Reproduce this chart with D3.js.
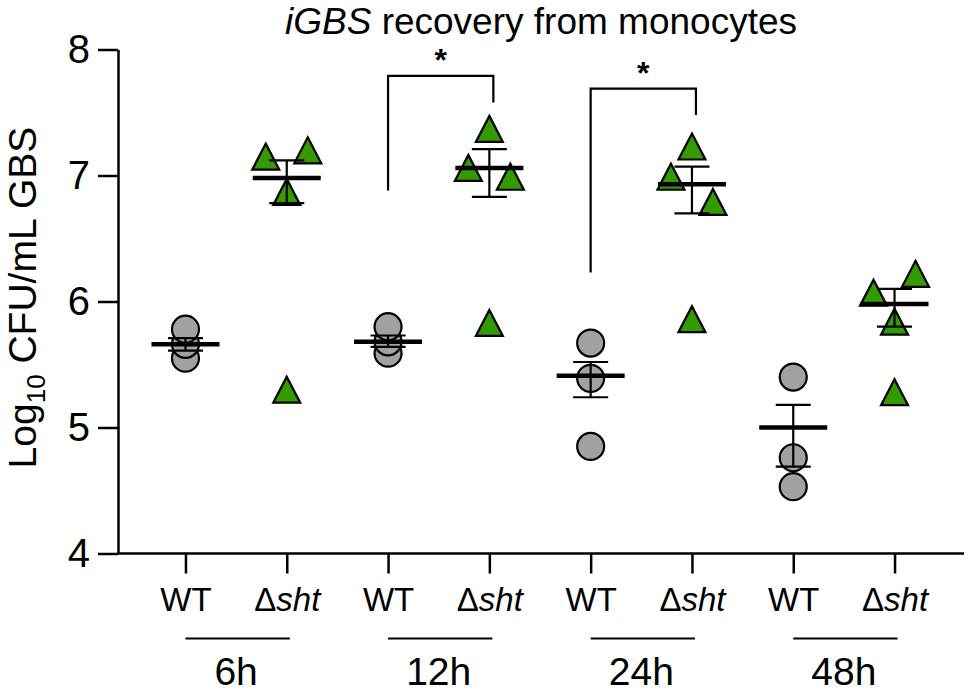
<!DOCTYPE html>
<html>
<head>
<meta charset="utf-8">
<script src="https://cdn.jsdelivr.net/npm/d3@7"></script>
<style>
  body { margin: 0; background: #fff; }
  text { font-family: Arial, "Liberation Sans", sans-serif; }
</style>
</head>
<body>
<script>
// time points and strains
var groups = ["6h", "12h", "24h", "48h"];
var strains = ["WT", "sht"];

// log10 CFU/mL, one row per time point
var wtValues = [
    [5.55, 5.66, 5.78],
    [5.59, 5.68, 5.80],
    [4.85, 5.39, 5.67],
    [4.53, 4.76, 5.40]
];
var shtValues = [
    [7.15, 7.20, 6.87, 5.30],
    [7.37, 7.06, 6.99, 5.83],
    [7.23, 6.99, 6.79, 5.86],
    [6.22, 6.07, 5.84, 5.28]
];

// mean line and error bar ends as plotted
var wtMean = [5.66, 5.68, 5.41, 5.00];
var wtHigh = [5.71, 5.73, 5.52, 5.18];
var wtLow  = [5.61, 5.64, 5.24, 4.69];
var shtMean = [6.98, 7.06, 6.93, 5.98];
var shtHigh = [7.12, 7.21, 7.07, 6.10];
var shtLow  = [6.78, 6.83, 6.70, 5.80];

var yTicks = [4, 5, 6, 7, 8];

// significance brackets: [group, top, wt end, sht end]
var brackets = [
    ["12h", 7.79, 6.88, 7.58],
    ["24h", 7.69, 6.23, 7.48]
];

// horizontal spread of overlapping triangles (-1 left, 0 centre, 1 right)
var shtSpread = [
    [-1, 1, 0, 0],
    [0, -1, 1, 0],
    [0, -1, 1, 0],
    [1, -1, 0, 0]
];

var margin = {top: 49.5, left: 118};
var width = 846, height = 504;

var svg = d3.select("body").append("svg")
    .attr("width", 968)
    .attr("height", 693);

var g = svg.append("g")
    .attr("transform", "translate(" + margin.left + "," + margin.top + ")");

var keys = [];
groups.forEach(function (grp) {
    strains.forEach(function (s) { keys.push(grp + "|" + s); });
});

var x = d3.scalePoint()
    .domain(keys)
    .range([0, 844])
    .padding(0.666);

var y = d3.scaleLinear()
    .domain([4, 8])
    .range([height, 0]);

// y axis
var yAxis = g.append("g")
    .call(d3.axisLeft(y).tickValues(yTicks).tickFormat(d3.format("d"))
        .tickSize(20).tickSizeOuter(0).tickPadding(8));
yAxis.selectAll("path, line").attr("stroke", "#000").attr("stroke-width", 2.5);
yAxis.selectAll("text").attr("font-size", 40).attr("fill", "#000")
    .attr("font-family", "Arial, 'Liberation Sans', sans-serif");

// x axis
var xAxis = g.append("g")
    .attr("transform", "translate(0," + height + ")")
    .call(d3.axisBottom(x).tickSize(20).tickSizeOuter(0).tickPadding(14));
xAxis.select(".domain").attr("d", "M0,0H" + width);
xAxis.selectAll("path, line").attr("stroke", "#000").attr("stroke-width", 2.5);
xAxis.selectAll("text").each(function (d) {
    var t = d3.select(this).text("")
        .attr("font-size", 33).attr("fill", "#000")
        .attr("font-family", "Arial, 'Liberation Sans', sans-serif");
    if (d.split("|")[1] === "WT") {
        t.append("tspan").text("WT");
    } else {
        t.append("tspan").text("\u0394");
        t.append("tspan").attr("font-style", "italic").text("sht");
    }
});

// group underlines and time labels
groups.forEach(function (grp) {
    var x0 = x(grp + "|WT"), x1 = x(grp + "|sht");
    g.append("line")
        .attr("x1", x0).attr("x2", x1 + 3)
        .attr("y1", height + 85).attr("y2", height + 85)
        .attr("stroke", "#000").attr("stroke-width", 2);
    g.append("text")
        .attr("x", (x0 + x1) / 2)
        .attr("y", height + 131)
        .attr("text-anchor", "middle")
        .attr("font-size", 39)
        .text(grp);
});

// y axis title
var yl = svg.append("text")
    .attr("transform", "translate(36," + (margin.top + height / 2 - 4) + ") rotate(-90)")
    .attr("text-anchor", "middle")
    .attr("font-size", 39);
yl.append("tspan").text("Log");
yl.append("tspan").attr("font-size", 26).attr("dy", 9).text("10");
yl.append("tspan").attr("dy", -9).text(" CFU/mL GBS");

// chart title
var title = svg.append("text")
    .attr("x", margin.left + 423)
    .attr("y", 34)
    .attr("text-anchor", "middle")
    .attr("font-size", 37);
title.append("tspan").attr("font-style", "italic").text("iGBS");
title.append("tspan").text(" recovery from monocytes");

// WT circles and sht triangles
var triW = 27, triH = 26;
groups.forEach(function (grp, i) {
    var cx = x(grp + "|WT");
    g.selectAll(null)
        .data(wtValues[i])
        .enter().append("circle")
        .attr("cx", cx)
        .attr("cy", function (v) { return y(v); })
        .attr("r", 13.5)
        .attr("fill", "#a1a1a1")
        .attr("stroke", "#000")
        .attr("stroke-width", 2.2);

    var sx = x(grp + "|sht");
    g.selectAll(null)
        .data(shtValues[i])
        .enter().append("path")
        .attr("d", "M0," + (-triH / 2) + "L" + (triW / 2) + "," + (triH / 2) + "L" + (-triW / 2) + "," + (triH / 2) + "Z")
        .attr("transform", function (v, j) {
            return "translate(" + (sx + shtSpread[i][j] * 21) + "," + y(v) + ")";
        })
        .attr("fill", "#339a00")
        .attr("stroke", "#000")
        .attr("stroke-width", 2.2);
});

// mean and error bars
function drawBar(cx, m, hi, lo) {
    var eb = g.append("g").attr("stroke", "#000");
    eb.append("line").attr("x1", cx).attr("x2", cx)
        .attr("y1", y(hi)).attr("y2", y(lo)).attr("stroke-width", 2.2);
    [hi, lo].forEach(function (v) {
        eb.append("line").attr("x1", cx - 17.5).attr("x2", cx + 17.5)
            .attr("y1", y(v)).attr("y2", y(v)).attr("stroke-width", 2.2);
    });
    eb.append("line").attr("x1", cx - 34).attr("x2", cx + 34)
        .attr("y1", y(m)).attr("y2", y(m)).attr("stroke-width", 4.5);
}
groups.forEach(function (grp, i) {
    drawBar(x(grp + "|WT"), wtMean[i], wtHigh[i], wtLow[i]);
    drawBar(x(grp + "|sht"), shtMean[i], shtHigh[i], shtLow[i]);
});

// significance brackets
brackets.forEach(function (b) {
    var xa = x(b[0] + "|WT"), xb = x(b[0] + "|sht") + 4;
    g.append("path")
        .attr("d", "M" + xa + "," + y(b[2]) + "V" + y(b[1]) + "H" + xb + "V" + y(b[3]))
        .attr("fill", "none")
        .attr("stroke", "#000")
        .attr("stroke-width", 2.2);
    g.append("text")
        .attr("x", (xa + xb) / 2)
        .attr("y", y(b[1]) - 5)
        .attr("text-anchor", "middle")
        .attr("font-size", 32)
        .attr("font-weight", "bold")
        .text("*");
});
</script>
</body>
</html>
